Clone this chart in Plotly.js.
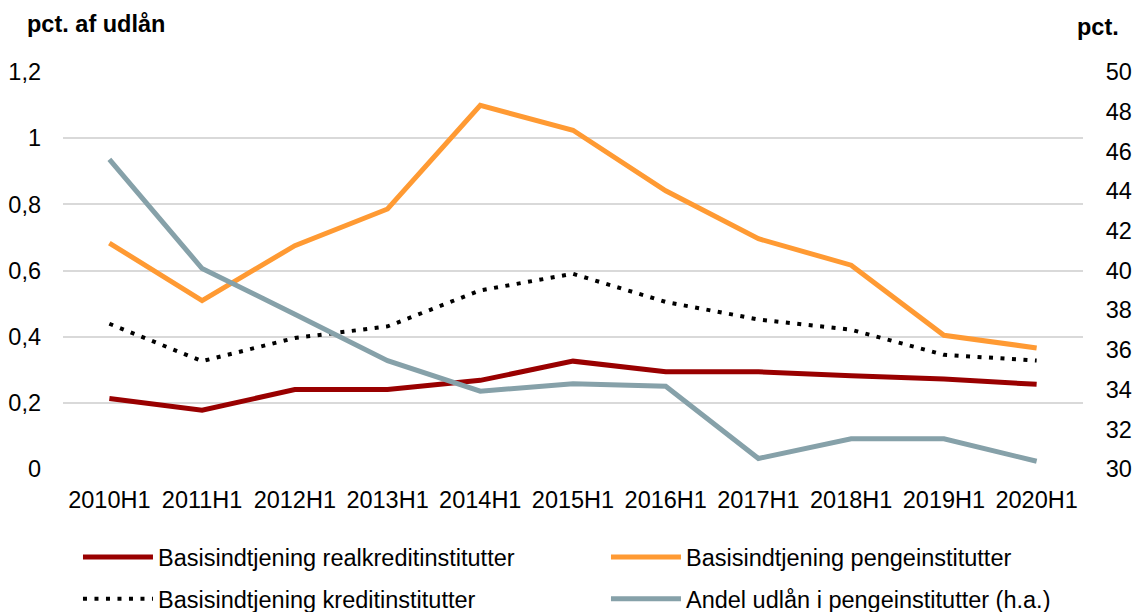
<!DOCTYPE html>
<html>
<head>
<meta charset="utf-8">
<script src="https://cdn.plot.ly/plotly-3.0.1.min.js"></script>
<style>html,body{margin:0;padding:0;background:#fff;}#chart{width:1134px;height:612px;}</style>
</head>
<body>
<div id="chart"></div>
<script>
const categories = ["2010H1","2011H1","2012H1","2013H1","2014H1","2015H1","2016H1","2017H1","2018H1","2019H1","2020H1"];
const realkredit = [0.213,0.178,0.240,0.240,0.268,0.326,0.294,0.294,0.282,0.272,0.256];
const pengeinst = [0.683,0.509,0.675,0.786,1.099,1.024,0.841,0.696,0.616,0.404,0.366];
const kreditinst = [0.439,0.326,0.396,0.431,0.540,0.590,0.505,0.452,0.421,0.345,0.328];
const andelUdlaan = [45.6,40.1,37.8,35.46,33.92,34.3,34.17,30.53,31.52,31.52,30.39];
const names = ["Basisindtjening realkreditinstitutter","Basisindtjening pengeinstitutter","Basisindtjening kreditinstitutter","Andel udlån i pengeinstitutter (h.a.)"];

const FONT = "Liberation Sans, Arial, sans-serif";
const FS = 23.5;
const traces = [
  {x: categories, y: realkredit, name: names[0], type: "scatter", mode: "lines", legend: "legend", line: {color: "#990000", width: 5}},
  {x: categories, y: pengeinst, name: names[1], type: "scatter", mode: "lines", legend: "legend", line: {color: "#FF9A33", width: 5}},
  {x: categories, y: kreditinst, name: names[2], type: "scatter", mode: "lines", legend: "legend2", line: {color: "#000000", width: 4, dash: "4px,7.5px"}},
  {x: categories, y: andelUdlaan, name: names[3], type: "scatter", mode: "lines", legend: "legend2", yaxis: "y2", line: {color: "#86A1A9", width: 5}}
];

function legendAt(y) {
  return {
    orientation: "h", x: -0.001, xanchor: "left", y: y, yanchor: "top",
    entrywidth: 427, entrywidthmode: "pixels", itemwidth: 70, indentation: 16,
    font: {family: FONT, size: FS, color: "#000"},
    traceorder: "normal", bgcolor: "rgba(0,0,0,0)"
  };
}

const layout = {
  width: 1134, height: 612,
  margin: {l: 63, r: 51, t: 72, b: 142.5, autoexpand: false},
  paper_bgcolor: "#fff", plot_bgcolor: "#fff",
  separators: ",.",
  font: {family: FONT, size: FS, color: "#000"},
  showlegend: true,
  legend: legendAt(-0.167),
  legend2: legendAt(-0.272),
  xaxis: {
    type: "category", range: [-0.5, 10.5], showgrid: false, zeroline: false, showline: false,
    ticks: "outside", ticklen: 10, tickcolor: "rgba(0,0,0,0)", tickfont: {size: FS}
  },
  yaxis: {
    range: [0, 1.2], dtick: 0.2, tick0: 0, showgrid: true, gridcolor: "#D9D9D9", gridwidth: 2,
    zeroline: false, showline: false, ticks: "", tickfont: {size: FS}, ticklabelstandoff: 21
  },
  yaxis2: {
    overlaying: "y", side: "right", range: [30, 50], dtick: 2, tick0: 30,
    showgrid: false, zeroline: false, showline: false,
    ticks: "outside", ticklen: 17, tickcolor: "rgba(0,0,0,0)", tickfont: {size: FS}
  },
  annotations: [
    {text: "<b>pct. af udlån</b>", xref: "paper", yref: "paper", x: -0.0373, y: 1.12, xanchor: "left", yanchor: "middle", showarrow: false, font: {size: FS}},
    {text: "<b>pct.</b>", xref: "paper", yref: "paper", x: 1.0372, y: 1.113, xanchor: "right", yanchor: "middle", showarrow: false, font: {size: FS}}
  ]
};

Plotly.newPlot("chart", traces, layout, {displayModeBar: false, staticPlot: true});
</script>
</body>
</html>
